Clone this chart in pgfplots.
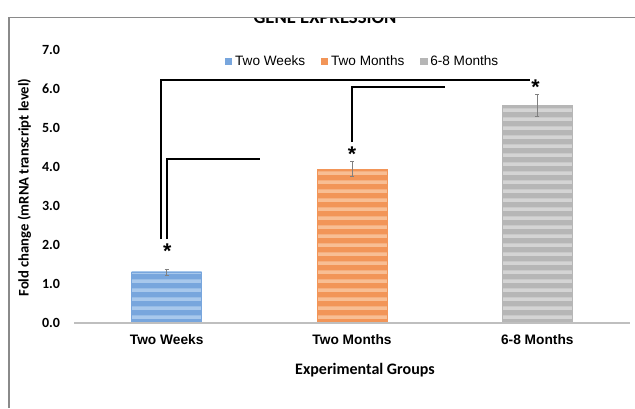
\documentclass[border=0pt]{standalone}
\usepackage{pgfplots}
\pgfplotsset{compat=1.18}
\usepackage{fontspec}
\setmainfont{Liberation Sans}
\newfontfamily\calfont{Carlito}
\usetikzlibrary{patterns}
\pgfdeclarepatternformonly{hstripes}{\pgfqpoint{0pt}{0pt}}{\pgfqpoint{500pt}{6.75pt}}{\pgfqpoint{500pt}{6.75pt}}{%
  \pgfpathrectangle{\pgfqpoint{0pt}{0pt}}{\pgfqpoint{500pt}{3pt}}\pgfusepath{fill}}
\definecolor{cblue}{HTML}{78A6DD}
\definecolor{cbluel}{HTML}{A8C8EC}
\definecolor{corange}{HTML}{F29558}
\definecolor{corangel}{HTML}{F8BE94}
\definecolor{cgray}{HTML}{B6B6B6}
\definecolor{cgrayl}{HTML}{D4D4D4}
\definecolor{cframe}{HTML}{8A8A8A}
\pgfplotsset{sqleg/.style={legend image code/.code={\fill[##1] (0pt,-2.7pt) rectangle (5.4pt,2.7pt);}}}
\begin{document}
\begin{tikzpicture}
% image pixel frame: 1px = 0.75pt, origin at axis south west = image (74,323)
\begin{scope}[x=0.75pt,y=-0.75pt,shift={(-55.5pt,242.25pt)}]
\path[use as bounding box] (0,0) rectangle (635,408);
\begin{scope}
\clip (0,17.5) rectangle (635,60);
\node[anchor=base, font=\calfont\bfseries\fontsize{14}{16}\selectfont] at (325,23.5) {GENE EXPRESSION};
\end{scope}
\draw[cframe, line width=0.8pt] (9,408) -- (9,17.5) -- (640,17.5);
\end{scope}
\begin{axis}[
  at={(0,0)}, anchor=south west,
  scale only axis, width=417pt, height=204.75pt,
  xmin=-0.5, xmax=2.5, ymin=0, ymax=7,
  axis line style={draw=none},
  major tick length=0pt,
  ytick={0,1,...,7},
  yticklabel={\pgfmathprintnumber[fixed,fixed zerofill,precision=1,assume math mode=true]{\tick}},
  yticklabel style={font=\calfont\bfseries\fontsize{10.5}{12}\selectfont, anchor=east, xshift=-7pt},
  xtick={0,1,2},
  xticklabels={Two Weeks, Two Months, 6-8 Months},
  xticklabel style={font=\bfseries\fontsize{10.3}{12}\selectfont, anchor=north, yshift=-5pt},
  xlabel={Experimental Groups},
  xlabel style={font=\calfont\bfseries\fontsize{12}{14}\selectfont, at={(axis description cs:0.5,0)}, anchor=center, yshift=-35.25pt, xshift=9.75pt},
  ylabel={Fold change (mRNA transcript level)},
  ylabel style={font=\calfont\bfseries\fontsize{11}{13}\selectfont, at={(axis description cs:-0.089,0.496)}, anchor=center, rotate=0},
  ybar, bar width=52.5pt, bar shift=0pt,
  legend style={draw=none, fill=none, at={(axis description cs:0.52,0.958)}, anchor=center,
    font=\fontsize{10.2}{12}\selectfont, legend columns=3,
    /tikz/every even column/.append style={column sep=10pt}},
  legend cell align=left,
  clip=false,
]
\addlegendimage{sqleg, fill=cblue, draw=none}
\addlegendentry{Two Weeks}
\addlegendimage{sqleg, fill=corange, draw=none}
\addlegendentry{Two Months}
\addlegendimage{sqleg, fill=cgray, draw=none}
\addlegendentry{6-8 Months}

\addplot[forget plot, fill=cblue, draw=cblue, postaction={pattern=hstripes, pattern color=cbluel},
  error bars/.cd, y dir=both, y explicit, error bar style={draw=gray, line width=0.6pt}, error mark options={rotate=90, mark size=1.5pt, draw=gray}]
  coordinates {(0,1.31) +- (0,0.08)};
\addplot[forget plot, fill=corange, draw=corange, postaction={pattern=hstripes, pattern color=corangel},
  error bars/.cd, y dir=both, y explicit, error bar style={draw=gray, line width=0.6pt}, error mark options={rotate=90, mark size=1.5pt, draw=gray}]
  coordinates {(1,3.95) +- (0,0.19)};
\addplot[forget plot, fill=cgray, draw=cgray, postaction={pattern=hstripes, pattern color=cgrayl},
  error bars/.cd, y dir=both, y explicit, error bar style={draw=gray, line width=0.6pt}, error mark options={rotate=90, mark size=1.5pt, draw=gray}]
  coordinates {(2,5.59) +- (0,0.28)};

% baseline
\draw[black!25, line width=0.9pt] (axis cs:-0.5,0) -- (axis cs:2.5,0);
% significance brackets
\draw[black, line width=1.7pt] (axis cs:-0.03,2.15) -- (axis cs:-0.03,6.23) -- (axis cs:1.96,6.23);
\draw[black, line width=1.7pt] (axis cs:0.003,2.15) -- (axis cs:0.003,4.21) -- (axis cs:0.504,4.21);
\draw[black, line width=1.7pt] (axis cs:1.0,4.64) -- (axis cs:1.0,6.05) -- (axis cs:1.50,6.05);
\node[font=\bfseries\fontsize{16}{16}\selectfont, yshift=-3pt] at (axis cs:0.003,1.95) {*};
\node[font=\bfseries\fontsize{16}{16}\selectfont, yshift=-3pt] at (axis cs:1.0,4.44) {*};
\node[font=\bfseries\fontsize{16}{16}\selectfont, yshift=-3pt] at (axis cs:1.99,6.15) {*};
\end{axis}
\end{tikzpicture}
\end{document}
